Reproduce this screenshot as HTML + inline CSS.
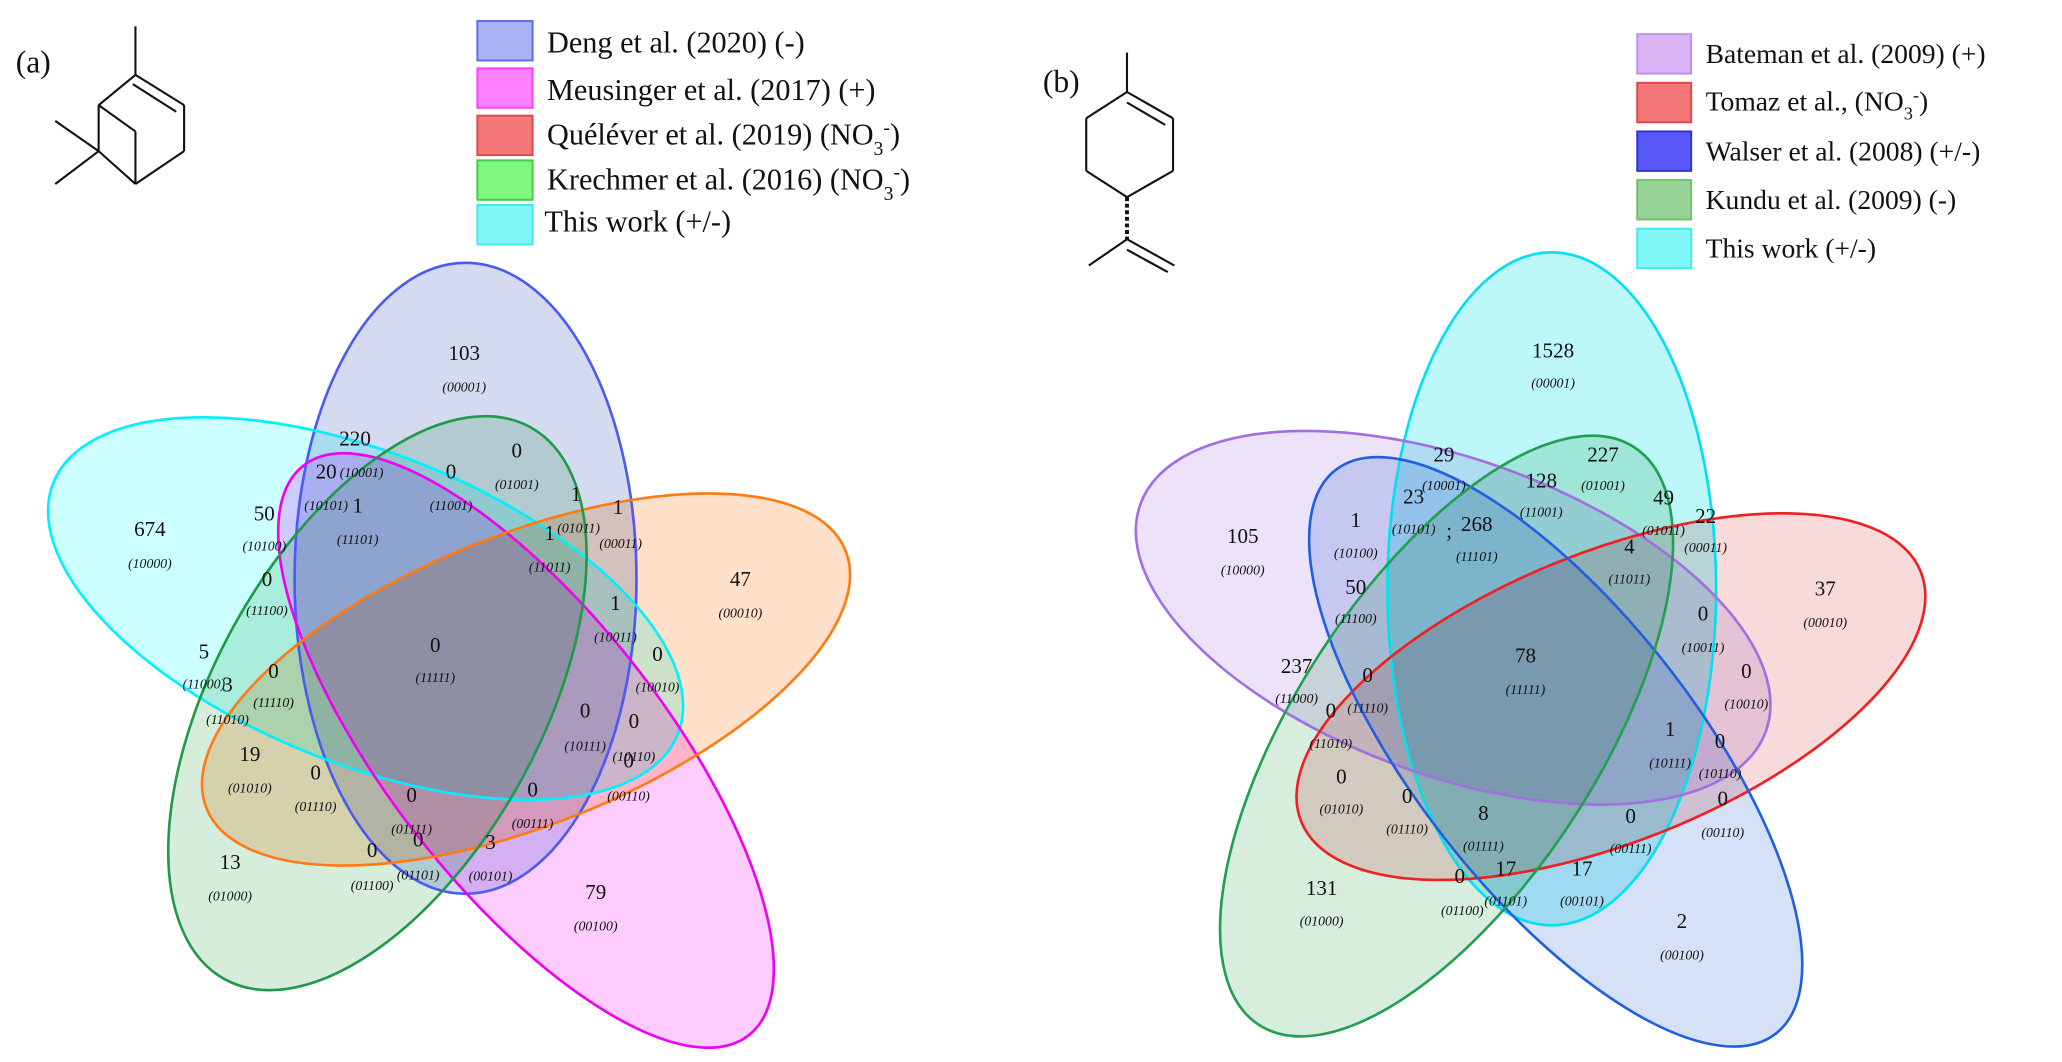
<!DOCTYPE html>
<html><head><meta charset="utf-8"><style>
html,body{margin:0;padding:0;background:#fff;overflow:hidden;width:2062px;height:1062px;}
svg{display:block;}
text{font-family:"Liberation Serif",serif;fill:#111;}
.n{font-size:16px;text-anchor:middle;}
.c{font-size:10.5px;font-style:italic;text-anchor:middle;}
.lg{font-size:23px;}
.lb{font-size:21px;}
.f ellipse{mix-blend-mode:multiply;stroke:none;fill-opacity:0.72;}
.s ellipse{fill:none;stroke-width:2;}
</style></head><body>
<svg width="2062" height="1062" viewBox="0 0 1568 808" preserveAspectRatio="none" xmlns="http://www.w3.org/2000/svg">
<rect width="1568" height="808" fill="#fff"/>
<g stroke="#111" stroke-width="1.6" fill="none">
<line x1="103" y1="20" x2="103" y2="57"/>
<line x1="103" y1="57" x2="140" y2="80"/>
<line x1="101" y1="64" x2="134" y2="85"/>
<line x1="140" y1="80" x2="140" y2="115"/>
<line x1="140" y1="115" x2="103" y2="140"/>
<line x1="103" y1="57" x2="75" y2="80"/>
<line x1="75" y1="80" x2="75" y2="115"/>
<line x1="75" y1="115" x2="103" y2="140"/>
<line x1="75" y1="80" x2="103" y2="100"/>
<line x1="103" y1="100" x2="103" y2="140"/>
<line x1="75" y1="115" x2="42" y2="92"/>
<line x1="75" y1="115" x2="42" y2="140"/>
</g>
<text x="12" y="55" font-size="24">(a)</text>
<g stroke-width="1.5">
<rect x="363" y="16" width="42" height="30" fill="#aab4f4" stroke="#5a6bef"/>
<rect x="363" y="52" width="42" height="30" fill="#ff80ff" stroke="#ff40ff"/>
<rect x="363" y="88" width="42" height="30" fill="#f47878" stroke="#e04848"/>
<rect x="363" y="122" width="42" height="30" fill="#80f880" stroke="#40d040"/>
<rect x="363" y="156" width="42" height="30" fill="#80f8f8" stroke="#40e8f0"/>
</g>
<text class="lg" x="416" y="40">Deng et al. (2020) (-)</text>
<text class="lg" x="416" y="76">Meusinger et al. (2017) (+)</text>
<text class="lg" x="416" y="110">Quéléver et al. (2019) (NO<tspan font-size="15" dy="8">3</tspan><tspan font-size="15" dy="-16">-</tspan><tspan dy="8">)</tspan></text>
<text class="lg" x="416" y="144">Krechmer et al. (2016) (NO<tspan font-size="15" dy="8">3</tspan><tspan font-size="15" dy="-16">-</tspan><tspan dy="8">)</tspan></text>
<text class="lg" x="414" y="176">This work (+/-)</text>
<g class="f">
<ellipse cx="354" cy="440" rx="130" ry="240" fill="#c4cdec"/>
<ellipse cx="278" cy="463" rx="256" ry="118" transform="rotate(22 278 463)" fill="#b8ffff"/>
<ellipse cx="400" cy="571" rx="105" ry="275" transform="rotate(-38 400 571)" fill="#ffb8ff"/>
<ellipse cx="400" cy="517" rx="262" ry="110" transform="rotate(-22 400 517)" fill="#ffd6b4"/>
<ellipse cx="287" cy="535" rx="124" ry="240" transform="rotate(29 287 535)" fill="#c6e6cf"/>
</g>
<g class="s">
<ellipse cx="354" cy="440" rx="130" ry="240" stroke="#4b5bef"/>
<ellipse cx="278" cy="463" rx="256" ry="118" transform="rotate(22 278 463)" stroke="#00f0ff"/>
<ellipse cx="400" cy="571" rx="105" ry="275" transform="rotate(-38 400 571)" stroke="#f000f0"/>
<ellipse cx="400" cy="517" rx="262" ry="110" transform="rotate(-22 400 517)" stroke="#ff7a10"/>
<ellipse cx="287" cy="535" rx="124" ry="240" transform="rotate(29 287 535)" stroke="#1e9a48"/>
</g>
<g stroke="#111" stroke-width="1.6" fill="none">
<line x1="857" y1="40" x2="857" y2="70"/>
<line x1="857" y1="70" x2="892" y2="90"/>
<line x1="857" y1="78" x2="886" y2="95"/>
<line x1="892" y1="90" x2="892" y2="130"/>
<line x1="892" y1="130" x2="857" y2="150"/>
<line x1="857" y1="150" x2="826" y2="130"/>
<line x1="826" y1="130" x2="826" y2="90"/>
<line x1="826" y1="90" x2="857" y2="70"/>
<line x1="857" y1="150" x2="857" y2="182" stroke-dasharray="3 2" stroke-width="3"/>
<line x1="857" y1="182" x2="828" y2="202"/>
<line x1="857" y1="182" x2="893" y2="202"/>
<line x1="857" y1="190" x2="888" y2="207"/>
</g>
<text x="793" y="70" font-size="24">(b)</text>
<g stroke-width="1.5">
<rect x="1245" y="26" width="41" height="30" fill="#d8b4f4" stroke="#c090e8"/>
<rect x="1245" y="63" width="41" height="30" fill="#f47878" stroke="#e04848"/>
<rect x="1245" y="100" width="41" height="30" fill="#5858f8" stroke="#3030e0"/>
<rect x="1245" y="137" width="41" height="30" fill="#98d498" stroke="#70c070"/>
<rect x="1245" y="174" width="41" height="30" fill="#80f8f8" stroke="#40e8f0"/>
</g>
<text class="lb" x="1297" y="48">Bateman et al. (2009) (+)</text>
<text class="lb" x="1297" y="84">Tomaz et al., (NO<tspan font-size="14" dy="7">3</tspan><tspan font-size="14" dy="-14">-</tspan><tspan dy="7">)</tspan></text>
<text class="lb" x="1297" y="122">Walser et al. (2008) (+/-)</text>
<text class="lb" x="1297" y="159">Kundu et al. (2009) (-)</text>
<text class="lb" x="1297" y="196">This work (+/-)</text>
<g class="f">
<ellipse cx="1180" cy="448" rx="125" ry="256" fill="#a4f4f6"/>
<ellipse cx="1105" cy="470" rx="253" ry="120" transform="rotate(20 1105 470)" fill="#e4d8f6"/>
<ellipse cx="1225" cy="530" rx="254" ry="110" transform="rotate(-22 1225 530)" fill="#f6cccc"/>
<ellipse cx="1183" cy="572" rx="107" ry="272" transform="rotate(-38 1183 572)" fill="#c6d6f4"/>
<ellipse cx="1100" cy="560" rx="115" ry="262" transform="rotate(33 1100 560)" fill="#c8e6d1"/>
</g>
<g class="s">
<ellipse cx="1180" cy="448" rx="125" ry="256" stroke="#00e0ee"/>
<ellipse cx="1105" cy="470" rx="253" ry="120" transform="rotate(20 1105 470)" stroke="#a070e0"/>
<ellipse cx="1225" cy="530" rx="254" ry="110" transform="rotate(-22 1225 530)" stroke="#ee2020"/>
<ellipse cx="1183" cy="572" rx="107" ry="272" transform="rotate(-38 1183 572)" stroke="#2060e0"/>
<ellipse cx="1100" cy="560" rx="115" ry="262" transform="rotate(33 1100 560)" stroke="#20a050"/>
</g>
<g>
<text class="n" x="353" y="274">103</text><text class="c" x="353" y="298">(00001)</text>
<text class="n" x="270" y="339">220</text><text class="c" x="275" y="363">(10001)</text>
<text class="n" x="248" y="364">20</text><text class="c" x="248" y="388">(10101)</text>
<text class="n" x="393" y="348">0</text><text class="c" x="393" y="372">(01001)</text>
<text class="n" x="343" y="364">0</text><text class="c" x="343" y="388">(11001)</text>
<text class="n" x="272" y="390">1</text><text class="c" x="272" y="414">(11101)</text>
<text class="n" x="438" y="381">1</text><text class="c" x="440" y="405">(01011)</text>
<text class="n" x="470" y="391">1</text><text class="c" x="472" y="417">(00011)</text>
<text class="n" x="418" y="411">1</text><text class="c" x="418" y="435">(11011)</text>
<text class="n" x="201" y="396">50</text><text class="c" x="201" y="419">(10100)</text>
<text class="n" x="114" y="408">674</text><text class="c" x="114" y="432">(10000)</text>
<text class="n" x="563" y="446">47</text><text class="c" x="563" y="470">(00010)</text>
<text class="n" x="203" y="446">0</text><text class="c" x="203" y="468">(11100)</text>
<text class="n" x="468" y="464">1</text><text class="c" x="468" y="488">(10011)</text>
<text class="n" x="331" y="496">0</text><text class="c" x="331" y="519">(11111)</text>
<text class="n" x="500" y="503">0</text><text class="c" x="500" y="526">(10010)</text>
<text class="n" x="155" y="501">5</text><text class="c" x="155" y="524">(11000)</text>
<text class="n" x="173" y="526">3</text><text class="c" x="173" y="551">(11010)</text>
<text class="n" x="208" y="516">0</text><text class="c" x="208" y="538">(11110)</text>
<text class="n" x="445" y="546">0</text><text class="c" x="445" y="571">(10111)</text>
<text class="n" x="482" y="554">0</text><text class="c" x="482" y="579">(10110)</text>
<text class="n" x="190" y="579">19</text><text class="c" x="190" y="603">(01010)</text>
<text class="n" x="478" y="584">0</text><text class="c" x="478" y="609">(00110)</text>
<text class="n" x="240" y="593">0</text><text class="c" x="240" y="617">(01110)</text>
<text class="n" x="313" y="610">0</text><text class="c" x="313" y="634">(01111)</text>
<text class="n" x="405" y="606">0</text><text class="c" x="405" y="630">(00111)</text>
<text class="n" x="318" y="644">0</text><text class="c" x="318" y="669">(01101)</text>
<text class="n" x="283" y="652">0</text><text class="c" x="283" y="677">(01100)</text>
<text class="n" x="373" y="646">3</text><text class="c" x="373" y="670">(00101)</text>
<text class="n" x="175" y="661">13</text><text class="c" x="175" y="685">(01000)</text>
<text class="n" x="453" y="684">79</text><text class="c" x="453" y="708">(00100)</text>
</g>
<g>
<text class="n" x="1181" y="272">1528</text><text class="c" x="1181" y="295">(00001)</text>
<text class="n" x="1098" y="351">29</text><text class="c" x="1098" y="373">(10001)</text>
<text class="n" x="1219" y="351">227</text><text class="c" x="1219" y="373">(01001)</text>
<text class="n" x="1075" y="383">23</text><text class="c" x="1075" y="406">(10101)</text>
<text class="n" x="1172" y="371">128</text><text class="c" x="1172" y="393">(11001)</text>
<text class="n" x="1123" y="404">268</text><text class="c" x="1123" y="427">(11101)</text>
<text class="n" x="1102" y="409">;</text>
<text class="n" x="1265" y="384">49</text><text class="c" x="1265" y="407">(01011)</text>
<text class="n" x="1297" y="398">22</text><text class="c" x="1297" y="420">(00011)</text>
<text class="n" x="1031" y="401">1</text><text class="c" x="1031" y="424">(10100)</text>
<text class="n" x="945" y="413">105</text><text class="c" x="945" y="437">(10000)</text>
<text class="n" x="1239" y="421">4</text><text class="c" x="1239" y="444">(11011)</text>
<text class="n" x="1031" y="452">50</text><text class="c" x="1031" y="474">(11100)</text>
<text class="n" x="1388" y="453">37</text><text class="c" x="1388" y="477">(00010)</text>
<text class="n" x="1295" y="472">0</text><text class="c" x="1295" y="496">(10011)</text>
<text class="n" x="1160" y="504">78</text><text class="c" x="1160" y="528">(11111)</text>
<text class="n" x="986" y="512">237</text><text class="c" x="986" y="535">(11000)</text>
<text class="n" x="1040" y="519">0</text><text class="c" x="1040" y="542">(11110)</text>
<text class="n" x="1328" y="516">0</text><text class="c" x="1328" y="539">(10010)</text>
<text class="n" x="1012" y="546">0</text><text class="c" x="1012" y="569">(11010)</text>
<text class="n" x="1270" y="560">1</text><text class="c" x="1270" y="584">(10111)</text>
<text class="n" x="1308" y="569">0</text><text class="c" x="1308" y="592">(10110)</text>
<text class="n" x="1020" y="596">0</text><text class="c" x="1020" y="619">(01010)</text>
<text class="n" x="1310" y="613">0</text><text class="c" x="1310" y="637">(00110)</text>
<text class="n" x="1070" y="611">0</text><text class="c" x="1070" y="634">(01110)</text>
<text class="n" x="1128" y="624">8</text><text class="c" x="1128" y="647">(01111)</text>
<text class="n" x="1240" y="626">0</text><text class="c" x="1240" y="649">(00111)</text>
<text class="n" x="1145" y="666">17</text><text class="c" x="1145" y="689">(01101)</text>
<text class="n" x="1203" y="666">17</text><text class="c" x="1203" y="689">(00101)</text>
<text class="n" x="1110" y="672">0</text><text class="c" x="1112" y="696">(01100)</text>
<text class="n" x="1005" y="681">131</text><text class="c" x="1005" y="704">(01000)</text>
<text class="n" x="1279" y="706">2</text><text class="c" x="1279" y="730">(00100)</text>
</g>
</svg>
</body></html>
